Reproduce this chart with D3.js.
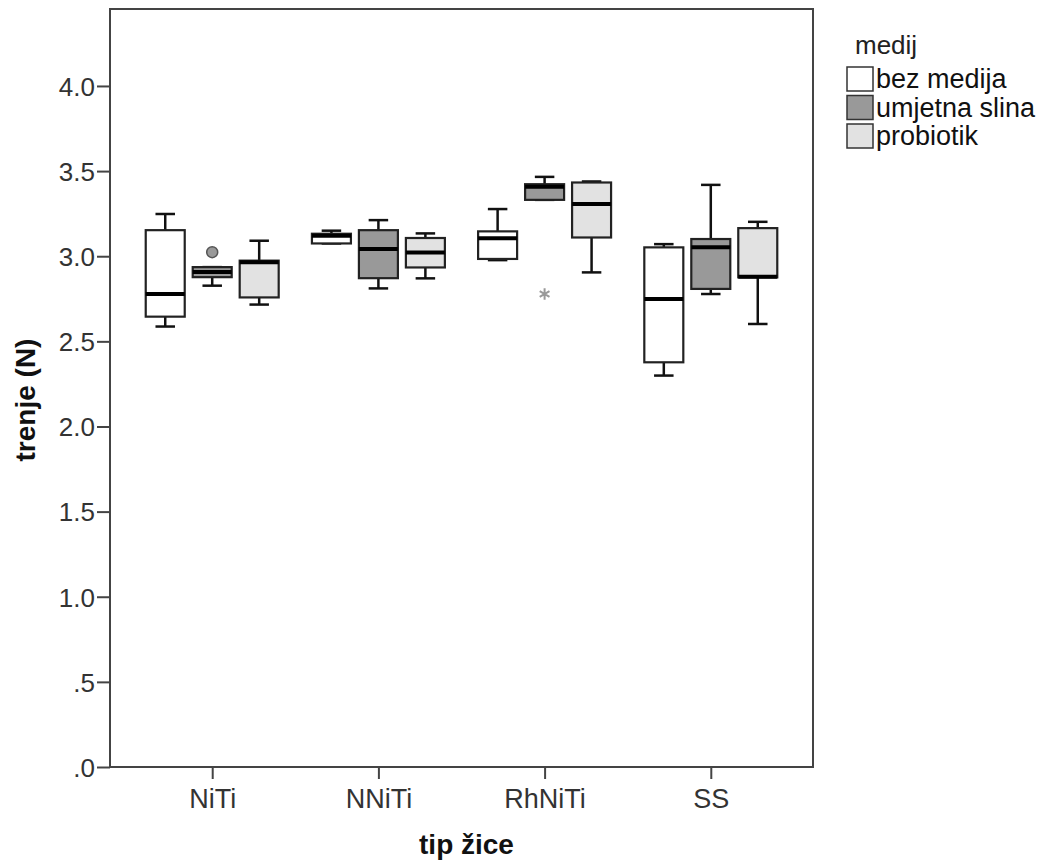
<!DOCTYPE html>
<meta charset="utf-8">
<style>
  body { margin: 0; background: #fff; }
  text { font-family: "Liberation Sans", Arial, sans-serif; }
  .tick text { fill: #333; }
</style>
<body>
<div id="chart"></div>
<script src="https://d3js.org/d3.v7.min.js"></script>
<script>

// wire types and media
var categories = ["NiTi", "NNiTi", "RhNiTi", "SS"];
var media = ["bez medija", "umjetna slina", "probiotik"];
var fills = ["#ffffff", "#999999", "#e2e2e2"];
var yTicks = [0, 0.5, 1, 1.5, 2, 2.5, 3, 3.5, 4];

// box stats per medium, one entry per category: [min, q1, median, q3, max]
var bezMedija = [
  [2.587, 2.645, 2.778, 3.153, 3.248],
  [3.075, 3.075, 3.120, 3.132, 3.150],
  [2.977, 2.984, 3.105, 3.146, 3.277],
  [2.299, 2.377, 2.749, 3.052, 3.071]
];
var umjetnaSlina = [
  [2.827, 2.877, 2.907, 2.936, 2.936],
  [2.811, 2.871, 3.042, 3.153, 3.212],
  [3.331, 3.331, 3.408, 3.423, 3.466],
  [2.778, 2.808, 3.052, 3.101, 3.419]
];
var probiotik = [
  [2.716, 2.758, 2.964, 2.974, 3.091],
  [2.870, 2.934, 3.022, 3.107, 3.134],
  [2.905, 3.110, 3.306, 3.433, 3.439],
  [2.602, 2.876, 2.880, 3.165, 3.202]
];
// outliers: circle = mild, star = extreme
var outliers = [
  {cat: "NiTi", medium: "umjetna slina", value: 3.024, type: "circle"},
  {cat: "RhNiTi", medium: "umjetna slina", value: 2.778, type: "star"}
];

var width = 1046, height = 865;
var plotL = 110, plotR = 813, plotT = 9, plotB = 767;

var svg = d3.select("#chart").append("svg")
    .attr("width", width)
    .attr("height", height);

var x = d3.scalePoint()
    .domain(categories)
    .range([plotL, plotR])
    .padding(0.615);

var xSub = d3.scaleBand()
    .domain(media)
    .range([-x.step() * 0.4, x.step() * 0.4])
    .paddingInner(0.17);

var y = d3.scaleLinear()
    .domain([0, 4.452])
    .range([plotB, plotT]);

// frame
svg.append("rect")
    .attr("x", plotL)
    .attr("y", plotT)
    .attr("width", plotR - plotL)
    .attr("height", plotB - plotT)
    .attr("fill", "none")
    .attr("stroke", "#444")
    .attr("stroke-width", 2);

// axes
var yAxis = svg.append("g")
    .attr("transform", "translate(" + plotL + ",0)")
    .call(d3.axisLeft(y).tickValues(yTicks).tickSize(13).tickPadding(2)
      .tickFormat(function(d) { return d3.format(".1f")(d).replace(/^0/, ""); }));
yAxis.select(".domain").remove();
yAxis.selectAll(".tick line").attr("stroke", "#444").attr("stroke-width", 2);
yAxis.selectAll(".tick text").attr("font-size", 26).attr("dy", "0.36em");

var xAxis = svg.append("g")
    .attr("transform", "translate(0," + plotB + ")")
    .call(d3.axisBottom(x).tickSize(12).tickPadding(10));
xAxis.select(".domain").remove();
xAxis.selectAll(".tick line").attr("stroke", "#444").attr("stroke-width", 2);
xAxis.selectAll(".tick text").attr("font-size", 27);

// axis titles
svg.append("text")
    .attr("x", (plotL + plotR) / 2 + 5)
    .attr("y", 854)
    .attr("text-anchor", "middle")
    .attr("font-weight", "bold")
    .attr("font-size", 28)
    .attr("fill", "#111")
    .text("tip žice");

svg.append("text")
    .attr("transform", "translate(35,400) rotate(-90)")
    .attr("text-anchor", "middle")
    .attr("font-weight", "bold")
    .attr("font-size", 28)
    .attr("fill", "#111")
    .text("trenje (N)");

// boxes
var series = [bezMedija, umjetnaSlina, probiotik];
var boxes = [];
series.forEach(function(s, mi) {
  s.forEach(function(v, ci) {
    boxes.push({cat: categories[ci], medium: media[mi], fill: fills[mi],
      min: v[0], q1: v[1], med: v[2], q3: v[3], max: v[4]});
  });
});

var bw = xSub.bandwidth();
var capW = bw * 0.25;

var g = svg.selectAll("g.box")
    .data(boxes)
  .enter().append("g")
    .attr("class", "box")
    .attr("transform", function(d) {
      return "translate(" + (x(d.cat) + xSub(d.medium) + bw / 2) + ",0)";
    });

// whiskers
g.append("line")
    .attr("y1", function(d) { return y(d.max); })
    .attr("y2", function(d) { return y(d.q3); })
    .attr("stroke", "#111").attr("stroke-width", 2.5);
g.append("line")
    .attr("y1", function(d) { return y(d.q1); })
    .attr("y2", function(d) { return y(d.min); })
    .attr("stroke", "#111").attr("stroke-width", 2.5);
g.append("line")
    .attr("x1", -capW).attr("x2", capW)
    .attr("y1", function(d) { return y(d.max); })
    .attr("y2", function(d) { return y(d.max); })
    .attr("stroke", "#111").attr("stroke-width", 2.5);
g.append("line")
    .attr("x1", -capW).attr("x2", capW)
    .attr("y1", function(d) { return y(d.min); })
    .attr("y2", function(d) { return y(d.min); })
    .attr("stroke", "#111").attr("stroke-width", 2.5);

g.append("rect")
    .attr("x", -bw / 2)
    .attr("width", bw)
    .attr("y", function(d) { return y(d.q3); })
    .attr("height", function(d) { return y(d.q1) - y(d.q3); })
    .attr("fill", function(d) { return d.fill; })
    .attr("stroke", "#222")
    .attr("stroke-width", 2.2);

g.append("line")
    .attr("x1", -bw / 2).attr("x2", bw / 2)
    .attr("y1", function(d) { return y(d.med); })
    .attr("y2", function(d) { return y(d.med); })
    .attr("stroke", "#000").attr("stroke-width", 4);

// outliers
outliers.forEach(function(o) {
  var cx = x(o.cat) + xSub(o.medium) + bw / 2;
  if (o.type === "circle") {
    svg.append("circle")
        .attr("cx", cx).attr("cy", y(o.value)).attr("r", 5.5)
        .attr("fill", "#999").attr("stroke", "#555").attr("stroke-width", 1.5);
  } else {
    svg.append("path")
        .attr("transform", "translate(" + cx + "," + y(o.value) + ")")
        .attr("d", d3.symbol(d3.symbolAsterisk, 90)())
        .attr("fill", "none").attr("stroke", "#999").attr("stroke-width", 2);
  }
});

// legend
var legend = svg.append("g").attr("transform", "translate(847,0)");
legend.append("text")
    .attr("x", 8).attr("y", 54)
    .attr("font-size", 26)
    .attr("fill", "#222")
    .text("medij");

var li = legend.selectAll("g.item")
    .data(media)
  .enter().append("g")
    .attr("class", "item")
    .attr("transform", function(d, i) { return "translate(0," + (67 + i * 28.5) + ")"; });
li.append("rect")
    .attr("width", 26).attr("height", 24)
    .attr("fill", function(d, i) { return fills[i]; })
    .attr("stroke", "#333").attr("stroke-width", 1.5);
li.append("text")
    .attr("x", 29).attr("y", 21)
    .attr("font-size", 27)
    .attr("fill", "#111")
    .text(function(d) { return d; });

</script>
</body>
